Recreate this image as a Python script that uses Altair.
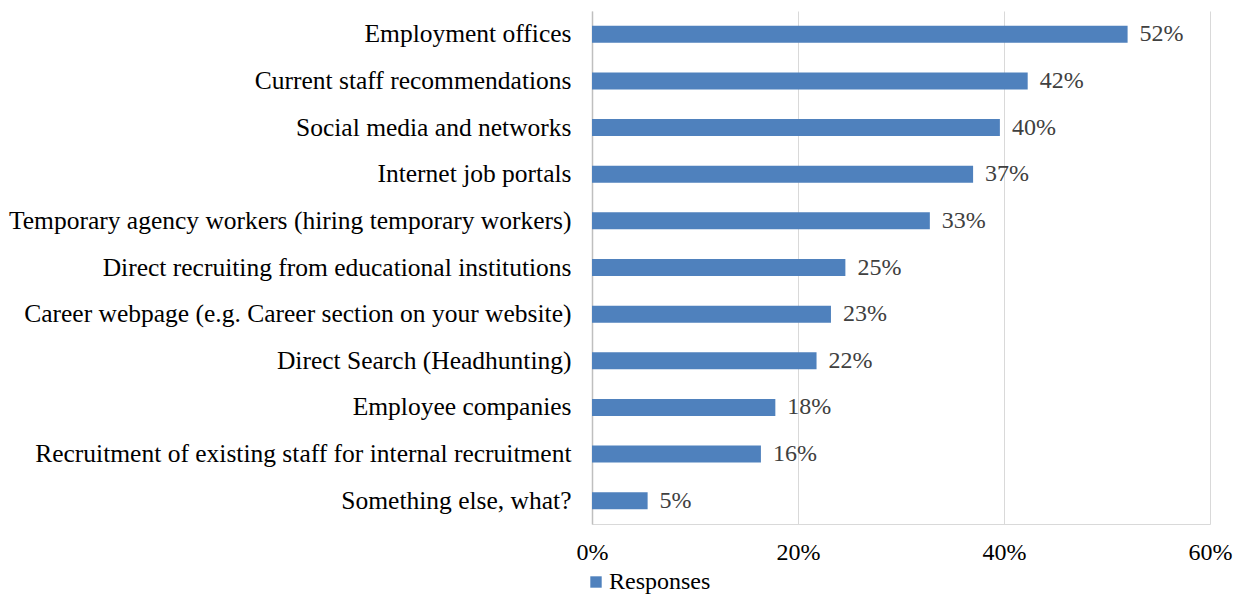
import altair as alt
import pandas as pd

categories = [
    "Employment offices",
    "Current staff recommendations",
    "Social media and networks",
    "Internet job portals",
    "Temporary agency workers (hiring temporary workers)",
    "Direct recruiting from educational institutions",
    "Career webpage (e.g. Career section on your website)",
    "Direct Search (Headhunting)",
    "Employee companies",
    "Recruitment of existing staff for internal recruitment",
    "Something else, what?",
]
values = [0.52, 0.423, 0.396, 0.37, 0.328, 0.246, 0.232, 0.218, 0.178, 0.164, 0.054]
labels = ["52%", "42%", "40%", "37%", "33%", "25%", "23%", "22%", "18%", "16%", "5%"]
series = ["Responses"] * len(categories)

df = pd.DataFrame({"cat": categories, "val": values, "lab": labels, "series": series})

FONT = "Liberation Serif"

y_enc = alt.Y("cat:N", sort=categories, title=None,
              axis=alt.Axis(labelFont=FONT, labelFontSize=25.5, labelColor="#000000",
                            labelPadding=21, ticks=False, domainColor="#BFBFBF",
                            domainWidth=1.5, labelLimit=700))
x_enc = alt.X("val:Q", title=None,
              scale=alt.Scale(domain=[0, 0.6], nice=False),
              axis=alt.Axis(format=".0%", values=[0, 0.2, 0.4, 0.6], labelFont=FONT,
                            labelFontSize=24, labelColor="#000000", labelPadding=16,
                            ticks=False, domainColor="#D9D9D9", gridColor="#D9D9D9",
                            labelFlush=False))

bars = alt.Chart(df).mark_bar(size=17).encode(
    x=x_enc, y=y_enc,
    color=alt.Color("series:N", scale=alt.Scale(range=["#4F81BD"]),
                    legend=alt.Legend(title=None, orient="none", legendX=-8, legendY=559,
                                      symbolType="square", symbolSize=130,
                                      labelFont=FONT, labelFontSize=24, labelColor="#000000",
                                      labelOffset=1, symbolStrokeWidth=0)),
)

text = alt.Chart(df).mark_text(align="left", dx=12, font=FONT, fontSize=24,
                               color="#404040", baseline="middle").encode(
    x="val:Q", y=alt.Y("cat:N", sort=categories), text="lab:N")

chart = (bars + text).properties(
    width=618, height=513,
    autosize=alt.AutoSizeParams(type="none"),
    padding={"left": 584, "top": 3, "right": 25, "bottom": 72},
).configure_view(stroke=None)

chart.save("out.html", embed_options={"renderer": "svg", "actions": False})
